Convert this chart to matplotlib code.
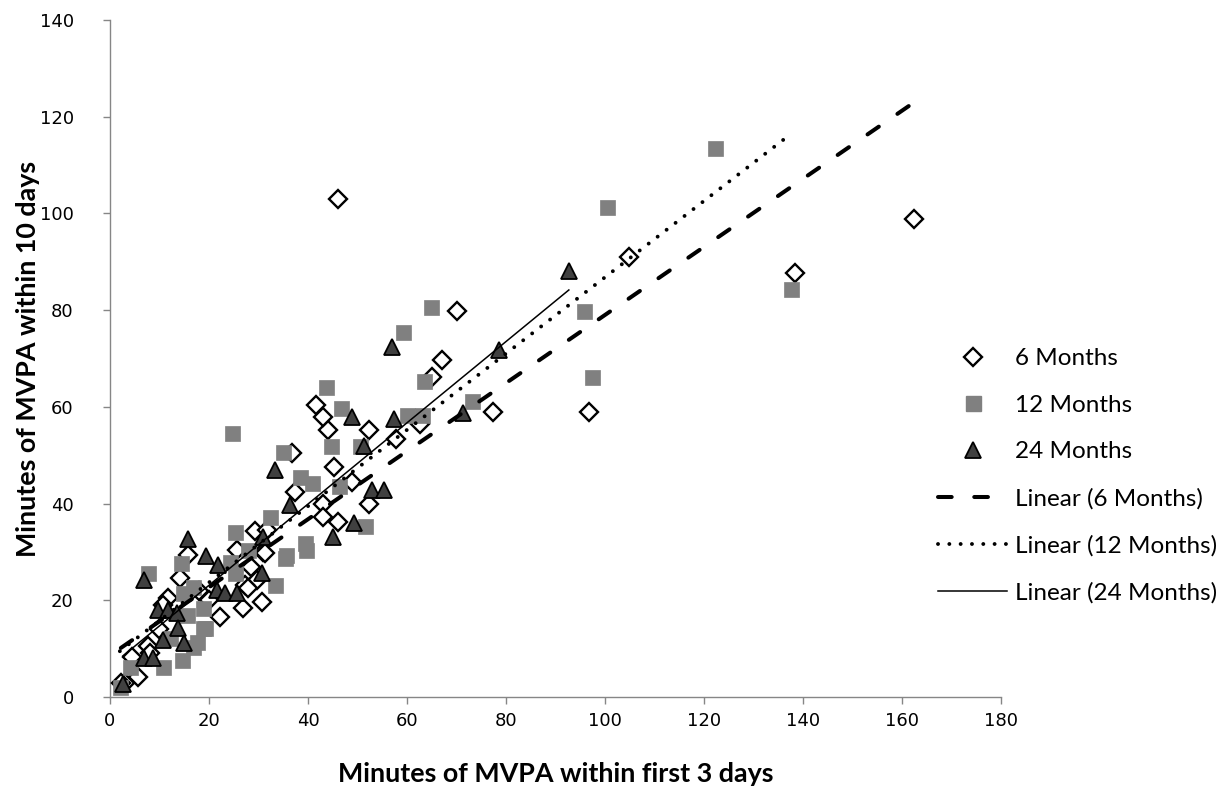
import matplotlib
matplotlib.use("Agg")
import matplotlib.pyplot as plt
from matplotlib.lines import Line2D
import numpy as np

# ---- data ----
m6_x = [162.4, 138.4, 104.8, 96.8, 77.4, 70.1, 67.1, 65.0, 62.6, 57.8, 52.3, 52.3, 48.9, 46.0,
        45.3, 46.0, 44.0, 43.0, 41.6, 43.0, 43.0, 37.4, 36.8, 30.9, 29.2, 25.6, 31.3, 28.5,
        29.7, 27.3, 27.9, 30.7, 26.9, 22.2, 15.8, 14.1, 11.7, 10.8, 5.7, 4.4, 7.7, 3.0, 18.0,
        10.0, 8.0, 2.2, 20.0, 31.7]
m6_y = [98.8, 87.7, 91.0, 58.9, 58.9, 79.8, 69.7, 66.2, 56.5, 53.3, 55.2, 39.9, 44.5, 103.0,
        47.6, 36.2, 55.2, 57.9, 60.4, 39.9, 37.2, 42.4, 50.5, 30.0, 34.3, 30.4, 29.8, 26.9,
        24.2, 23.2, 22.5, 19.6, 18.4, 16.5, 29.4, 24.6, 20.5, 19.0, 4.1, 8.3, 10.5, 3.0, 22.0,
        14.0, 9.0, 2.8, 20.0, 34.5]

m12_x = [122.2, 100.4, 95.8, 137.6, 97.4, 73.1, 64.8, 59.2, 63.4, 60.0, 63.0, 43.6, 46.7, 44.6,
         50.5, 38.4, 40.8, 46.3, 51.5, 35.0, 39.4, 39.6, 32.3, 35.6, 24.6, 25.3, 27.9, 35.4,
         24.2, 25.3, 33.3, 18.8, 18.8, 17.6, 7.7, 14.3, 14.8, 16.8, 12.1, 16.8, 14.5, 10.7,
         4.0, 2.0, 19.2, 15.5]
m12_y = [113.5, 101.3, 79.8, 84.4, 66.2, 61.2, 80.6, 75.5, 65.3, 58.3, 58.3, 64.1, 59.8, 51.9,
         51.9, 45.5, 44.3, 43.6, 35.4, 50.7, 31.8, 30.4, 37.2, 29.4, 54.6, 34.1, 30.4, 28.7,
         27.9, 25.6, 23.2, 18.4, 14.3, 11.4, 25.6, 27.7, 21.5, 22.7, 12.2, 10.3, 7.7, 6.2,
         6.2, 2.1, 14.3, 17.0]

m24_x = [92.7, 78.6, 57.0, 71.3, 57.4, 48.9, 51.3, 52.9, 55.4, 49.3, 45.0, 33.3, 36.4, 30.9,
         19.4, 21.8, 21.6, 23.2, 25.7, 30.7, 15.8, 6.9, 9.8, 11.8, 13.5, 13.7, 10.7, 15.0,
         6.9, 8.7, 2.6]
m24_y = [88.1, 71.8, 72.4, 58.7, 57.5, 57.9, 51.9, 42.8, 42.8, 36.0, 33.1, 46.9, 39.7, 33.0,
         29.2, 27.3, 22.1, 21.5, 21.5, 25.6, 32.7, 24.2, 18.0, 18.0, 17.4, 14.3, 11.8, 11.2,
         8.1, 8.1, 2.7]

# linear trendline coefficients
trend_slope = {"6 Months": 0.704, "12 Months": 0.789, "24 Months": 0.840}
trend_intercept = {"6 Months": 8.6, "12 Months": 7.9, "24 Months": 6.3}

x_ticks = list(range(0, 181, 20))
y_ticks = list(range(0, 141, 20))

# ---- figure ----
plt.rcParams["font.family"] = ["DejaVu Sans"]
fig = plt.figure(figsize=(12.23, 7.86), dpi=100)
ax = fig.add_axes([0.0899, 0.1132, 0.8185 - 0.0899, 0.9746 - 0.1132])

ax.plot(m6_x, m6_y, linestyle="none", marker="D", ms=9.6, mfc="white", mec="black",
        mew=1.7, zorder=3)
ax.plot(m12_x, m12_y, linestyle="none", marker="s", ms=10.8, mfc="#808080", mec="#808080",
        mew=0.5, zorder=3)
ax.plot(m24_x, m24_y, linestyle="none", marker="^", ms=11, mfc="#404040", mec="black",
        mew=1.3, zorder=3)

def trend(name, xs, **kw):
    xr = np.array([min(xs), max(xs)])
    yr = trend_slope[name] * xr + trend_intercept[name]
    return ax.plot(xr, yr, zorder=4, **kw)[0]

trend("6 Months", m6_x, color="black", lw=2.9, dashes=(3.4, 5.6), dash_capstyle="round")
trend("12 Months", m12_x, color="black", lw=2.8, dashes=(0.01, 2.9), dash_capstyle="round")
trend("24 Months", m24_x, color="black", lw=1.1)

ax.set_xlim(0, 180)
ax.set_ylim(0, 140)
ax.set_xticks(x_ticks)
ax.set_yticks(y_ticks)
for s in ("top", "right"):
    ax.spines[s].set_visible(False)
for s in ("left", "bottom"):
    ax.spines[s].set_color("#868686")
    ax.spines[s].set_linewidth(1.0)
ax.tick_params(axis="both", direction="out", length=5, width=1, color="#868686",
               labelsize=13, labelcolor="black")
ax.tick_params(axis="y", pad=21)
ax.tick_params(axis="x", pad=6)

ax.set_xlabel("Minutes of MVPA within first 3 days", fontfamily="Lato", fontweight="bold",
              fontsize=19.4, labelpad=23)
ax.set_ylabel("Minutes of MVPA within 10 days", fontfamily="Lato", fontweight="bold",
              fontsize=19.4, labelpad=0)

handles = [
    Line2D([], [], linestyle="none", marker="D", ms=9.6, mfc="white", mec="black", mew=1.7),
    Line2D([], [], linestyle="none", marker="s", ms=10.8, mfc="#808080", mec="#808080"),
    Line2D([], [], linestyle="none", marker="^", ms=11, mfc="#404040", mec="black", mew=1.3),
    Line2D([], [], color="black", lw=2.9, dashes=(3.4, 5.6), dash_capstyle="round"),
    Line2D([], [], color="black", lw=2.8, dashes=(0.01, 2.9), dash_capstyle="round"),
    Line2D([], [], color="black", lw=1.1),
]
labels = ["6 Months", "12 Months", "24 Months", "Linear (6 Months)", "Linear (12 Months)",
          "Linear (24 Months)"]
fig.legend(handles, labels, loc="center left", bbox_to_anchor=(938 / 1223, 1 - 476 / 786),
           frameon=False, prop={"family": "Lato", "size": 17.5}, handlelength=2.84,
           handletextpad=0.33, labelspacing=1.05, borderpad=0, borderaxespad=0)

fig.savefig("out.png", dpi=100)
